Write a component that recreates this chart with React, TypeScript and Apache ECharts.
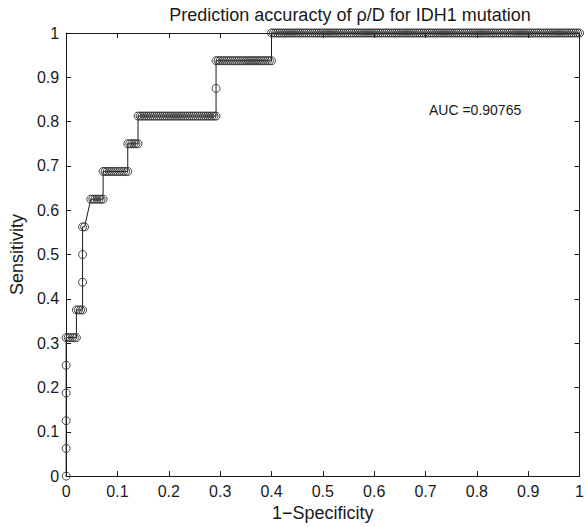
import React, { useEffect, useRef } from "react";
import * as echarts from "echarts";

// Tick labels
const xTicks = [0, 0.1, 0.2, 0.3, 0.4, 0.5, 0.6, 0.7, 0.8, 0.9, 1];
const yTicks = [0, 0.1, 0.2, 0.3, 0.4, 0.5, 0.6, 0.7, 0.8, 0.9, 1];

// ROC points: (1-Specificity, Sensitivity)
// Vertical run at x = 0
const riseAt0Y = [0, 0.0625, 0.125, 0.1875, 0.25];
// Horizontal runs (x in thousandths) per sensitivity level
const row03125X = [0, 4, 8, 12, 16, 20];
const row0375X = [20, 24, 28, 32];
const riseAt032Y = [0.4375, 0.5];
const row05625X = [32, 36];
const row0625X = [48, 52, 56, 60, 64, 68, 72];
const row06875X = [72, 76, 80, 84, 88, 92, 96, 100, 104, 108, 112, 116, 120];
const row075X = [120, 124, 128, 132, 136, 140];
const row08125X = [
  140, 144, 148, 152, 156, 160, 164, 168, 172, 176,
  180, 184, 188, 192, 196, 200, 204, 208, 212, 216,
  220, 224, 228, 232, 236, 240, 244, 248, 252, 256,
  260, 264, 268, 272, 276, 280, 284, 288, 292,
];
const riseAt292Y = [0.875];
const row09375X = [
  292, 296, 300, 304, 308, 312, 316, 320, 324, 328,
  332, 336, 340, 344, 348, 352, 356, 360, 364, 368,
  372, 376, 380, 384, 388, 392, 396, 400,
];
const row1X = [
  400, 404, 408, 412, 416, 420, 424, 428, 432, 436,
  440, 444, 448, 452, 456, 460, 464, 468, 472, 476,
  480, 484, 488, 492, 496, 500, 504, 508, 512, 516,
  520, 524, 528, 532, 536, 540, 544, 548, 552, 556,
  560, 564, 568, 572, 576, 580, 584, 588, 592, 596,
  600, 604, 608, 612, 616, 620, 624, 628, 632, 636,
  640, 644, 648, 652, 656, 660, 664, 668, 672, 676,
  680, 684, 688, 692, 696, 700, 704, 708, 712, 716,
  720, 724, 728, 732, 736, 740, 744, 748, 752, 756,
  760, 764, 768, 772, 776, 780, 784, 788, 792, 796,
  800, 804, 808, 812, 816, 820, 824, 828, 832, 836,
  840, 844, 848, 852, 856, 860, 864, 868, 872, 876,
  880, 884, 888, 892, 896, 900, 904, 908, 912, 916,
  920, 924, 928, 932, 936, 940, 944, 948, 952, 956,
  960, 964, 968, 972, 976, 980, 984, 988, 992, 996,
  1000,
];

const titleText = "Prediction accuracty of \u03c1/D for IDH1 mutation";
const aucText = "AUC =0.90765";
const xName = "1\u2212Specificity";
const yName = "Sensitivity";

const FONT = "'Liberation Sans', Arial, Helvetica, sans-serif";
const INK = "#1a1a1a";

function buildPoints(): number[][] {
  const pts: number[][] = [];
  riseAt0Y.forEach((y) => pts.push([0, y]));
  const row = (xs: number[], y: number) => xs.forEach((x) => pts.push([x / 1000, y]));
  row(row03125X, 0.3125);
  row(row0375X, 0.375);
  riseAt032Y.forEach((y) => pts.push([0.032, y]));
  row(row05625X, 0.5625);
  row(row0625X, 0.625);
  row(row06875X, 0.6875);
  row(row075X, 0.75);
  row(row08125X, 0.8125);
  riseAt292Y.forEach((y) => pts.push([0.292, y]));
  row(row09375X, 0.9375);
  row(row1X, 1);
  return pts;
}

export default function App() {
  const ref = useRef<HTMLDivElement>(null);
  useEffect(() => {
    if (!ref.current) return;
    const chart = echarts.init(ref.current, undefined, { renderer: "svg" });
    const fmt = (v: number) => {
      const r = Math.round(v * 10) / 10;
      return r === 0 ? "0" : r === 1 ? "1" : r.toFixed(1);
    };
    const baseAxis = {
      type: "value" as const,
      min: xTicks[0],
      max: xTicks[xTicks.length - 1],
      interval: 0.1,
      splitLine: { show: false },
      axisLine: { show: true, onZero: false, lineStyle: { color: INK, width: 1 } },
      axisTick: { show: true, inside: true, length: 5, lineStyle: { color: INK, width: 1 } },
    };
    const labelStyle = { color: INK, fontSize: 16, fontFamily: FONT, formatter: fmt };
    chart.setOption({
      animation: false,
      backgroundColor: "#ffffff",
      title: {
        text: titleText,
        left: 345,
        textAlign: "center",
        top: 1,
        textStyle: { color: INK, fontSize: 18, fontWeight: "normal", fontFamily: FONT },
      },
      grid: { left: 64, right: 4, top: 33, bottom: 46.5, containLabel: false },
      xAxis: [
        {
          ...baseAxis,
          position: "bottom",
          axisLabel: { ...labelStyle, margin: 7 },
          name: xName,
          nameLocation: "middle",
          nameGap: 25,
          nameTextStyle: { color: INK, fontSize: 18, fontFamily: FONT },
        },
        { ...baseAxis, position: "top", axisLabel: { show: false } },
      ],
      yAxis: [
        {
          ...baseAxis,
          min: yTicks[0],
          max: yTicks[yTicks.length - 1],
          position: "left",
          axisLabel: { ...labelStyle, margin: 7 },
          name: yName,
          nameLocation: "middle",
          nameGap: 40,
          nameRotate: 90,
          nameTextStyle: { color: INK, fontSize: 18, fontFamily: FONT },
        },
        {
          ...baseAxis,
          min: yTicks[0],
          max: yTicks[yTicks.length - 1],
          position: "right",
          axisLabel: { show: false },
        },
      ],
      graphic: [
        {
          type: "text",
          left: 429,
          top: 103,
          style: { text: aucText, fontSize: 14, fill: INK, fontFamily: FONT },
        },
      ],
      series: [
        {
          type: "line",
          xAxisIndex: 0,
          yAxisIndex: 0,
          data: buildPoints(),
          showAllSymbol: true,
          symbol: "circle",
          symbolSize: 8,
          silent: true,
          clip: false,
          lineStyle: { color: INK, width: 1 },
          itemStyle: { color: "rgba(0,0,0,0)", borderColor: "#333", borderWidth: 0.9 },
          emphasis: { disabled: true },
        },
      ],
    });
    return () => chart.dispose();
  }, []);
  return (
    <div
      ref={ref}
      style={{ position: "fixed", left: 0, top: 0, width: 587, height: 527 }}
    />
  );
}
